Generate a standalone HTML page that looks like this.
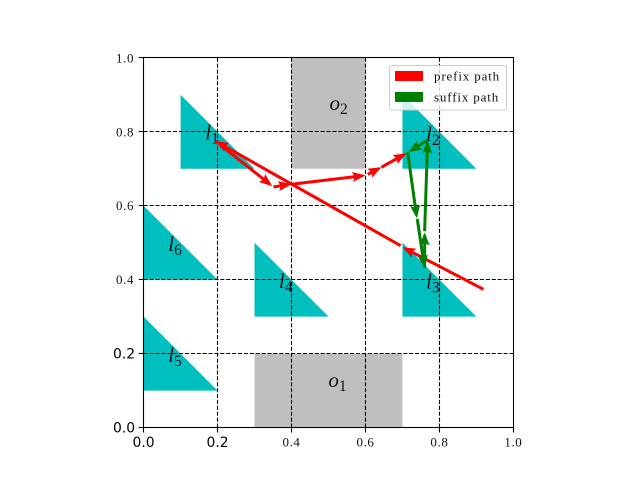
<!DOCTYPE html>
<html>
<head>
<meta charset="utf-8">
<style>
html,body{margin:0;padding:0;background:#fff;}
svg{display:block;position:absolute;left:0;top:0;}
.serif{font-family:"Liberation Serif",serif;fill:#111;}
.sans{font-family:"DejaVu Sans",sans-serif;fill:#000;font-size:13.9px;}
</style>
</head>
<body>
<svg id="chart" width="640" height="480" viewBox="0 0 640 480" xmlns="http://www.w3.org/2000/svg"></svg>
<script>
const triangleNames = ['l1','l2','l3','l4','l5','l6'];
const triangleX = [0.1,0.7,0.7,0.3,0.0,0.0];
const triangleY = [0.7,0.7,0.3,0.3,0.1,0.4];
const triangleSize = 0.2;
const obstacleNames = ['o1','o2'];
const obstacleX0 = [0.3,0.4];
const obstacleX1 = [0.7,0.6];
const obstacleY0 = [0.0,0.7];
const obstacleY1 = [0.2,1.0];
const regionLabelX = [0.183,0.78,0.78,0.382,0.083,0.083,0.516,0.519];
const regionLabelY = [0.795,0.791,0.392,0.394,0.194,0.494,0.126,0.875];
const regionLabelBase = ['l','l','l','l','l','l','o','o'];
const regionLabelSub = ['1','2','3','4','5','6','1','2'];
const gridTicks = [0.2,0.4,0.6,0.8];
const sansTicks = [0.0,0.2];
const serifTicksX = [0.4,0.6,0.8,1.0];
const serifTicksY = [0.4,0.6,0.8,1.0];
const prefixFromX = [0.919,0.695,0.194,0.351,0.400,0.606,0.643];
const prefixFromY = [0.374,0.492,0.775,0.651,0.658,0.685,0.704];
const prefixToX = [0.700,0.194,0.348,0.400,0.600,0.643,0.711];
const prefixToY = [0.488,0.775,0.653,0.658,0.682,0.704,0.742];
const suffixFromX = [0.714,0.740,0.760,0.760,0.768];
const suffixFromY = [0.745,0.564,0.431,0.531,0.777];
const suffixToX = [0.739,0.760,0.760,0.768,0.716];
const suffixToY = [0.566,0.431,0.528,0.777,0.745];
const legendLabels = ['prefix path','suffix path'];
const legendColors = ['#ff0000','#008000'];

const NS = 'http://www.w3.org/2000/svg';
const svg = document.getElementById('chart');
const X0 = 143.6, X1 = 513.4, Y0 = 427.6, Y1 = 57.8;
function sx(v){ return X0 + (X1 - X0) * v; }
function sy(v){ return Y0 - (Y0 - Y1) * v; }
function snap(p){ return Math.floor(p) + 0.5; }
function add(tag, attrs, parent){
  const el = document.createElementNS(NS, tag);
  for (const k in attrs) el.setAttribute(k, attrs[k]);
  (parent || svg).appendChild(el);
  return el;
}

/* obstacles */
obstacleNames.forEach(function(n, i){
  const r = add('rect', {x: sx(obstacleX0[i]), y: sy(obstacleY1[i]), width: sx(obstacleX1[i]) - sx(obstacleX0[i]), height: sy(obstacleY0[i]) - sy(obstacleY1[i]), fill: '#bfbfbf'});
  
  
});

/* triangles */
triangleNames.forEach(function(n, i){
  const x = triangleX[i], y = triangleY[i];
  const pts = [[x,y],[x,y + triangleSize],[x + triangleSize,y]].map(function(p){ return sx(p[0]) + ',' + sy(p[1]); }).join(' ');
  const t = add('polygon', {points: pts, fill: '#00bfbf'});
  
  
});

/* grid */
gridTicks.forEach(function(v){
  const gx = add('line', {x1: snap(sx(v)), x2: snap(sx(v)), y1: Y0, y2: Y1, stroke: '#000', 'stroke-width': 1.1, 'stroke-dasharray': '4.1 1.8'});
  
  
  const gy = add('line', {x1: X0, x2: X1, y1: snap(sy(v)), y2: snap(sy(v)), stroke: '#000', 'stroke-width': 1.1, 'stroke-dasharray': '4.1 1.8'});
  
  
});

/* region labels */
regionLabelBase.forEach(function(b, i){
  const t = add('text', {x: sx(regionLabelX[i]) - 6, y: sy(regionLabelY[i]) + 6, 'font-size': 21, 'font-style': 'italic', class: 'serif'});
  t.textContent = b;
  const s = add('tspan', {dy: 4, 'font-size': 15.5, 'font-style': 'normal'}, t);
  s.textContent = regionLabelSub[i];
  
  
});

/* arrows */
function drawArrows(fromX, fromY, toX, toY, color, name){
  fromX.forEach(function(_, i){
    const ax = sx(fromX[i]), ay = sy(fromY[i]), bx = sx(toX[i]), by = sy(toY[i]);
    const len = Math.hypot(bx - ax, by - ay) || 1;
    const ux = (bx - ax) / len, uy = (by - ay) / len;
    const hl = Math.min(13, Math.max(len, 9)), hw = 5;
    const mx = bx - ux * hl, my = by - uy * hl;
    const g = add('g', {});
    
    
    add('line', {x1: ax, y1: ay, x2: bx - ux * 3, y2: by - uy * 3, stroke: color, 'stroke-width': 3}, g);
    const pts = [
      [bx, by],
      [mx - uy * hw, my + ux * hw],
      [mx + ux * 2, my + uy * 2],
      [mx + uy * hw, my - ux * hw]
    ].map(function(p){ return p[0] + ',' + p[1]; }).join(' ');
    add('polygon', {points: pts, fill: color}, g);
  });
}
drawArrows(prefixFromX, prefixFromY, prefixToX, prefixToY, '#ff0000', 'prefix-path');
drawArrows(suffixFromX, suffixFromY, suffixToX, suffixToY, '#008000', 'suffix-path');

/* spines */
const frame = add('rect', {x: snap(X0), y: snap(Y1), width: snap(X1) - snap(X0), height: snap(Y0) - snap(Y1), fill: 'none', stroke: '#000', 'stroke-width': 1.1});



/* ticks */
function tickX(v, label, cls, size, dy){
  add('line', {x1: snap(sx(v)), x2: snap(sx(v)), y1: Y0, y2: Y0 + 4.9, stroke: '#000', 'stroke-width': 1.1});
  const t = add('text', {x: sx(v), y: Y0 + dy, 'text-anchor': 'middle', class: cls});
  if (size) { t.setAttribute('font-size', size); t.setAttribute('letter-spacing', '0.6'); }
  t.textContent = label;
  
  
}
function tickY(v, label, cls, size, dx, dy){
  add('line', {x1: X0, x2: X0 - 4.9, y1: snap(sy(v)), y2: snap(sy(v)), stroke: '#000', 'stroke-width': 1.1});
  const t = add('text', {x: X0 - dx, y: sy(v) + dy, 'text-anchor': 'end', class: cls});
  if (size) { t.setAttribute('font-size', size); t.setAttribute('letter-spacing', '0.6'); }
  t.textContent = label;
  
  
}
sansTicks.forEach(function(v){
  tickX(v, v.toFixed(1), 'sans', 0, 19.3);
  tickY(v, v.toFixed(1), 'sans', 0, 8.5, 5);
});
serifTicksX.forEach(function(v){ tickX(v, v.toFixed(1), 'serif', 13, 19); });
serifTicksY.forEach(function(v){ tickY(v, v.toFixed(1), 'serif', 13, 9.5, 4.5); });

/* legend */
const legend = add('g', {});


add('rect', {x: 389.5, y: 65.5, width: 117, height: 44.5, rx: 2, ry: 2, fill: '#fff', 'fill-opacity': 0.8, stroke: '#ccc', 'stroke-width': 1}, legend);
legendLabels.forEach(function(label, i){
  const y = 71 + i * 21;
  const sw = add('rect', {x: 395, y: y, width: 28, height: 10, fill: legendColors[i]}, legend);
  
  
  const t = add('text', {x: 434, y: y + 9.5, 'font-size': 13, 'letter-spacing': '0.85', class: 'serif'}, legend);
  t.textContent = label;
  
  
});
</script>
</body>
</html>
